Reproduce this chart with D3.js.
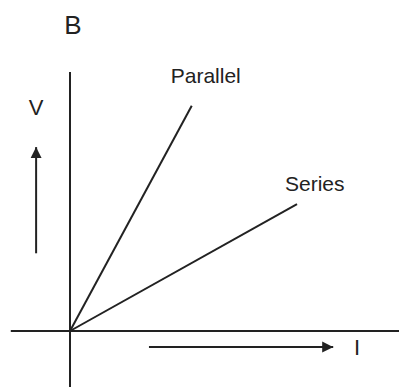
<!DOCTYPE html>
<html>
<head>
<meta charset="utf-8">
<script src="https://cdn.jsdelivr.net/npm/d3@7"></script>
<style>
  body { margin: 0; background: #fff; }
  text { font-family: "Liberation Sans", Arial, sans-serif; fill: #222; }
</style>
</head>
<body>
<svg id="chart"></svg>
<script>
// series: each line starts at the origin and ends at (i, v)
const seriesNames = ["Parallel", "Series"];
const endI = [37, 69];
const endV = [87, 49];

// axis extents (data units)
const axisIExtent = [-18, 100];
const axisVExtent = [-22, 100];

// direction arrows (data units)
const arrowV = {i: -10.3, from: 30, to: 71};
const arrowI = {v: -6.2, from: 24, to: 80};

const width = 399, height = 387;

const svg = d3.select("#chart")
    .attr("width", width)
    .attr("height", height);

const x = d3.scaleLinear().domain([0, 100]).range([70, 399]);
const y = d3.scaleLinear().domain([0, 100]).range([331, 72]);

const ink = "#222";

svg.append("defs").append("marker")
    .attr("id", "head")
    .attr("viewBox", "0 0 10 10")
    .attr("refX", 10).attr("refY", 5)
    .attr("markerWidth", 11).attr("markerHeight", 12)
    .attr("markerUnits", "userSpaceOnUse")
    .attr("orient", "auto")
    .append("path")
    .attr("d", "M0,0 L10,5 L0,10 Z")
    .attr("fill", ink);

// axes
svg.append("line")
    .attr("x1", x(axisIExtent[0])).attr("x2", x(axisIExtent[1]))
    .attr("y1", y(0)).attr("y2", y(0))
    .attr("stroke", ink).attr("stroke-width", 2);

svg.append("line")
    .attr("x1", x(0)).attr("x2", x(0))
    .attr("y1", y(axisVExtent[0])).attr("y2", y(axisVExtent[1]))
    .attr("stroke", ink).attr("stroke-width", 2);

// the two lines
const data = seriesNames.map((name, k) => ({name, i: endI[k], v: endV[k]}));

svg.selectAll(".series")
    .data(data)
    .join("line")
    .attr("class", "series")
    .attr("x1", x(0)).attr("y1", y(0))
    .attr("x2", d => x(d.i)).attr("y2", d => y(d.v))
    .attr("stroke", ink).attr("stroke-width", 2);

// line labels
const labelDx = [-21, -12];
const labelDy = [-23, -13];
svg.selectAll(".lbl")
    .data(data)
    .join("text")
    .attr("class", "lbl")
    .attr("x", (d, k) => x(d.i) + labelDx[k])
    .attr("y", (d, k) => y(d.v) + labelDy[k])
    .attr("font-size", 21)
    .text(d => d.name);

// direction arrows
svg.append("line")
    .attr("x1", x(arrowV.i)).attr("x2", x(arrowV.i))
    .attr("y1", y(arrowV.from)).attr("y2", y(arrowV.to))
    .attr("stroke", ink).attr("stroke-width", 2)
    .attr("marker-end", "url(#head)");

svg.append("line")
    .attr("x1", x(arrowI.from)).attr("x2", x(arrowI.to))
    .attr("y1", y(arrowI.v)).attr("y2", y(arrowI.v))
    .attr("stroke", ink).attr("stroke-width", 2)
    .attr("marker-end", "url(#head)");

// axis letters
svg.append("text").attr("x", 36).attr("y", 115)
    .attr("text-anchor", "middle").attr("font-size", 22).text("V");
svg.append("text").attr("x", 357).attr("y", 355)
    .attr("text-anchor", "middle").attr("font-size", 22).text("I");
svg.append("text").attr("x", 73).attr("y", 34)
    .attr("text-anchor", "middle").attr("font-size", 26).text("B");
</script>
</body>
</html>
